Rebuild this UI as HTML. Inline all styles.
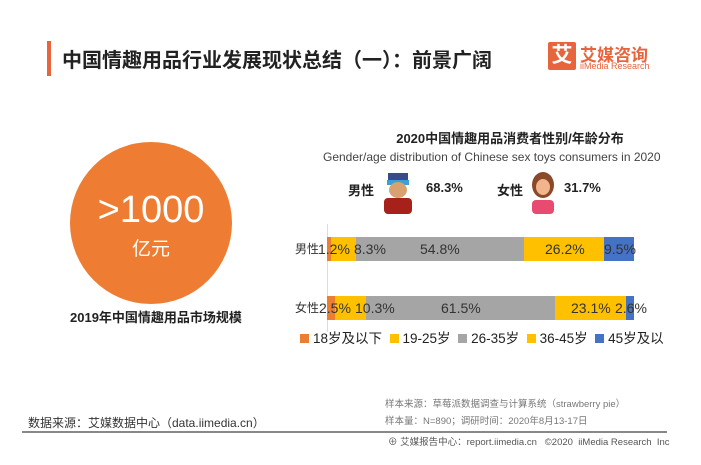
<!DOCTYPE html>
<html><head><meta charset="utf-8"><style>
body{margin:0;width:701px;height:465px;background:#fff;position:relative;overflow:hidden;font-family:"Liberation Sans","Noto Sans CJK SC",sans-serif;color:#222}
.a{position:absolute;white-space:nowrap}
.bar{position:absolute;height:24px;display:flex}
.bar div{height:24px}
.o{background:#ED7D31}.y{background:#FFC000}.g{background:#A5A5A5}.b{background:#4472C4}
.t{position:absolute;font-size:14px;color:#333;line-height:24px;white-space:nowrap}
.lg{display:inline-block;width:9px;height:9px;margin-right:4px;vertical-align:0px}
</style></head><body>
<div class="a" style="left:47px;top:41px;width:4px;height:35px;background:#E8643C"></div>
<div class="a" style="left:62px;top:44px;font-size:20px;font-weight:bold;color:#222">中国情趣用品行业发展现状总结（一）：前景广阔</div>
<div class="a" style="left:548px;top:42px;width:28px;height:28px;background:#E8643C;color:#fff;font-size:21px;font-weight:bold;text-align:center;line-height:28px;border-radius:2px">艾</div>
<div class="a" style="left:580px;top:41px;font-size:17px;font-weight:bold;color:#E8643C">艾媒咨询</div>
<div class="a" style="left:580px;top:61px;font-size:9px;color:#E8643C">iiMedia Research</div>

<div class="a" style="left:70px;top:142px;width:162px;height:162px;border-radius:50%;background:#EE7D33"></div>
<div class="a" style="left:70px;top:190px;width:162px;text-align:center;color:#fff;font-size:38px;line-height:40px">&gt;1000</div>
<div class="a" style="left:70px;top:234px;width:162px;text-align:center;color:#fff;font-size:19px">亿元</div>
<div class="a" style="left:70px;top:307px;width:162px;text-align:center;font-size:13px;font-weight:bold">2019年中国情趣用品市场规模</div>

<div class="a" style="left:320px;top:128px;width:380px;text-align:center;font-size:13px;font-weight:bold">2020中国情趣用品消费者性别/年龄分布</div>
<div class="a" style="left:323px;top:150px;font-size:12px;color:#444">Gender/age distribution of Chinese sex toys consumers in 2020</div>
<div class="a" style="left:348px;top:180px;font-size:13px;font-weight:bold">男性</div>
<svg class="a" style="left:383px;top:170px" width="30" height="44"><rect x="5" y="3" width="20" height="10" fill="#3b4a8a"/><rect x="4" y="10" width="22" height="5" fill="#3aa0d8"/><ellipse cx="15" cy="20" rx="9" ry="8" fill="#d9a070"/><rect x="1" y="28" width="28" height="16" rx="4" fill="#a8201a"/></svg>
<div class="a" style="left:426px;top:180px;font-size:13px;font-weight:bold">68.3%</div>
<div class="a" style="left:497px;top:180px;font-size:13px;font-weight:bold">女性</div>
<svg class="a" style="left:530px;top:170px" width="26" height="44"><ellipse cx="13" cy="15" rx="11" ry="13" fill="#8a4a2a"/><ellipse cx="13" cy="17" rx="7" ry="8" fill="#f2b48c"/><rect x="2" y="30" width="22" height="14" rx="4" fill="#e84a70"/></svg>
<div class="a" style="left:564px;top:180px;font-size:13px;font-weight:bold">31.7%</div>

<div class="a" style="left:327px;top:224px;width:1px;height:108px;background:#ddd"></div>
<div class="bar" style="left:327px;top:237px">
<div class="o" style="width:4px"></div><div class="y" style="width:25px"></div><div class="g" style="width:168px"></div><div class="y" style="width:80px"></div><div class="b" style="width:30px"></div>
</div>
<div class="bar" style="left:327px;top:296px">
<div class="o" style="width:8px"></div><div class="y" style="width:31px"></div><div class="g" style="width:189px"></div><div class="y" style="width:71px"></div><div class="b" style="width:8px"></div>
</div>
<div class="t" style="left:295px;top:237px;font-size:12px">男性</div>
<div class="t" style="left:318px;top:237px">1.2%</div>
<div class="t" style="left:354px;top:237px">8.3%</div>
<div class="t" style="left:420px;top:237px">54.8%</div>
<div class="t" style="left:545px;top:237px">26.2%</div>
<div class="t" style="left:604px;top:237px">9.5%</div>
<div class="t" style="left:295px;top:296px;font-size:12px">女性</div>
<div class="t" style="left:319px;top:296px">2.5%</div>
<div class="t" style="left:355px;top:296px">10.3%</div>
<div class="t" style="left:441px;top:296px">61.5%</div>
<div class="t" style="left:571px;top:296px">23.1%</div>
<div class="t" style="left:615px;top:296px">2.6%</div>
<div class="a" style="left:300px;top:327px;font-size:13.5px;color:#222">
<span class="lg o"></span>18岁及以下&nbsp;&nbsp;<span class="lg y"></span>19-25岁&nbsp;&nbsp;<span class="lg g"></span>26-35岁&nbsp;&nbsp;<span class="lg y"></span>36-45岁&nbsp;&nbsp;<span class="lg b"></span>45岁及以</div>

<div class="a" style="left:385px;top:396px;font-size:9.5px;color:#777">样本来源：草莓派数据调查与计算系统（strawberry pie）</div>
<div class="a" style="left:385px;top:413px;font-size:9.5px;color:#777">样本量：N=890；调研时间：2020年8月13-17日</div>
<div class="a" style="left:28px;top:414px;font-size:12px;color:#333">数据来源：艾媒数据中心（data.iimedia.cn）</div>
<div class="a" style="left:22px;top:431px;width:645px;height:2px;background:#888"></div>
<div class="a" style="left:388px;top:434px;font-size:9.5px;color:#555">⊕ 艾媒报告中心：report.iimedia.cn&nbsp;&nbsp;&nbsp;©2020&nbsp;&nbsp;iiMedia Research&nbsp;&nbsp;Inc</div>
</body></html>
